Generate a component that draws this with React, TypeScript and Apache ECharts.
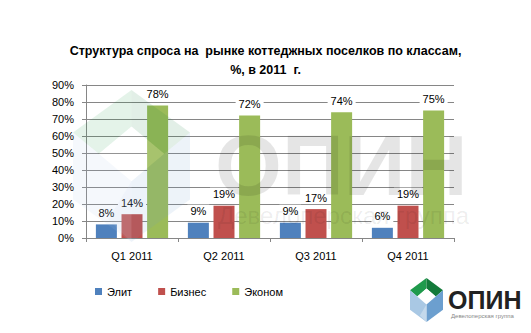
import React, { useEffect, useRef } from "react";
import * as echarts from "echarts";

const categories = ["Q1 2011", "Q2 2011", "Q3 2011", "Q4 2011"];
const seriesNames = ["Элит", "Бизнес", "Эконом"];
const elit = [8, 9, 9, 6];
const biznes = [14, 19, 17, 19];
const ekonom = [78, 72, 74, 75];
const colors = ["#4f81bd", "#c0504d", "#9bbb59"];
const titleText = "Структура спроса на  рынке коттеджных поселков по классам,\n%, в 2011  г.";

const FONT = "Liberation Sans, Arial, sans-serif";

function cube(x: number, y: number, w: number, h: number, opacity: number, z: number) {
  const P = (px: number, py: number) => [x + px * w, y + py * h];
  const T = P(0.5, 0), UL = P(0, 0.28), UR = P(1, 0.28), LL = P(0, 0.72), LR = P(1, 0.72), B = P(0.5, 1);
  const Wt = P(0.5, 0.24), Wl = P(0.22, 0.42), Wb = P(0.5, 0.6), Wr = P(0.78, 0.42);
  const mk = (pts: number[][], fill: string) => ({
    type: "polygon", z, silent: true,
    shape: { points: pts },
    style: { fill, opacity },
  });
  return [
    mk([T, UL, Wl, Wt], "#1f9a4c"),
    mk([T, Wt, Wr, UR], "#137a3a"),
    mk([Wt, Wl, Wb, Wr], "#ffffff"),
    mk([UL, Wl, Wb, B, LL], "#a9c8e4"),
    mk([UR, LR, B, Wb, Wr], "#6c9fcf"),
    mk([Wb, P(0.5, 1), P(0.3, 0.85)], "#c4d9ec"),
  ];
}

export default function App() {
  const ref = useRef<HTMLDivElement>(null);
  useEffect(() => {
    if (!ref.current) return;
    const chart = echarts.init(ref.current, null, { renderer: "svg" });
    const data = [elit, biznes, ekonom];
    chart.setOption({
      animation: false,
      backgroundColor: "#ffffff",
      title: {
        text: titleText,
        left: "center",
        top: 36,
        textStyle: { fontFamily: FONT, fontSize: 12.5, fontWeight: "bold", color: "#000", lineHeight: 19 },
      },
      grid: { left: 86, right: 77, top: 85, bottom: 95 },
      legend: {
        left: 90,
        top: 281,
        itemWidth: 7,
        itemHeight: 7,
        itemGap: 26,
        icon: "rect",
        textStyle: { fontFamily: FONT, fontSize: 11, color: "#000" },
        data: seriesNames,
      },
      xAxis: {
        type: "category",
        data: categories,
        axisLine: { lineStyle: { color: "#868686" } },
        axisTick: { show: true, length: 4, lineStyle: { color: "#868686" } },
        axisLabel: { fontFamily: FONT, fontSize: 11, color: "#000", margin: 12 },
      },
      yAxis: {
        type: "value",
        min: 0,
        max: 90,
        interval: 10,
        axisLine: { show: true, lineStyle: { color: "#868686" } },
        axisTick: { show: true, length: 4, lineStyle: { color: "#868686" } },
        axisLabel: { fontFamily: FONT, fontSize: 11, color: "#000", margin: 12, formatter: "{value}%" },
        splitLine: { lineStyle: { color: "#868686" } },
      },
      series: seriesNames.map((name, i) => ({
        name,
        type: "bar",
        data: data[i],
        barWidth: 21,
        barGap: "22%",
        itemStyle: { color: colors[i] },
        label: {
          show: true,
          position: "top",
          distance: 5,
          formatter: "{c}%",
          fontFamily: FONT,
          fontSize: 11,
          color: "#000",
          backgroundColor: "#ffffff",
          padding: [1, 3],
        },
      })),
      graphic: [
        ...cube(73, 90, 117, 152, 0.12, 100),
        {
          type: "text", z: 100, silent: true, left: 215, top: 122,
          style: { text: "ОПИН", fontFamily: FONT, fontSize: 86, fontWeight: "bold", fill: "#000", opacity: 0.1 },
        },
        {
          type: "text", z: 100, silent: true, left: 218, top: 203,
          style: { text: "Девелоперская группа", fontFamily: FONT, fontSize: 24, fill: "#000", opacity: 0.08 },
        },
        ...cube(410, 278, 33, 44, 1, 100),
        {
          type: "text", z: 100, silent: true, left: 448, top: 287,
          style: { text: "ОПИН", fontFamily: FONT, fontSize: 25, fontWeight: "bold", fill: "#222" },
        },
        {
          type: "text", z: 100, silent: true, left: 451, top: 313,
          style: { text: "Девелоперская группа", fontFamily: FONT, fontSize: 6, fill: "#888" },
        },
      ],
    });
    return () => chart.dispose();
  }, []);
  return (
    <div
      ref={ref}
      style={{ position: "fixed", left: 0, top: 0, width: 531, height: 333 }}
    />
  );
}
